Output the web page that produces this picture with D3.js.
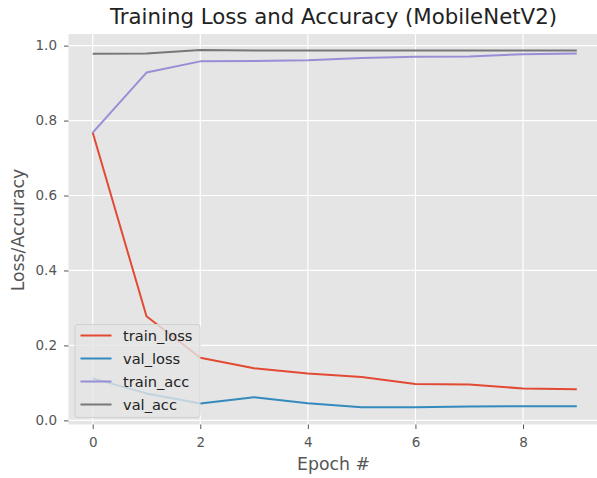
<!DOCTYPE html>
<html><head><meta charset="utf-8">
<script src="https://cdn.jsdelivr.net/npm/d3@7"></script>
<style>body{margin:0;background:#fff;} svg{display:block;}</style>
</head><body>
<script>
const epochs = [0,1,2,3,4,5,6,7,8,9];
const trainLoss = [0.768,0.278,0.167,0.139,0.125,0.116,0.097,0.096,0.085,0.083];
const valLoss   = [0.112,0.072,0.045,0.062,0.046,0.035,0.035,0.037,0.038,0.038];
const trainAcc  = [0.768,0.928,0.958,0.959,0.961,0.967,0.970,0.971,0.977,0.979];
const valAcc    = [0.978,0.979,0.988,0.987,0.987,0.987,0.987,0.987,0.987,0.987];
const seriesNames = ["train_loss","val_loss","train_acc","val_acc"];
const xTicks = [0,2,4,6,8];
const yTicks = [0.0,0.2,0.4,0.6,0.8,1.0];
const titleText = "Training Loss and Accuracy (MobileNetV2)";
const xLabel = "Epoch #";
const yLabel = "Loss/Accuracy";

const W = 597, H = 478;
const m = {left:68.5, right:-4, top:34, bottom:53.5};
const colors = ["#E24A33","#348ABD","#988ED5","#777777"];
const series = [trainLoss,valLoss,trainAcc,valAcc];

const svg = d3.select("body").append("svg").attr("width",W).attr("height",H);
const x = d3.scaleLinear().domain([-0.45,9.45]).range([m.left, W-m.right]);
const y = d3.scaleLinear().domain([-0.011,1.031]).range([H-m.bottom, m.top]);

svg.append("defs").append("clipPath").attr("id","clip")
  .append("rect").attr("x",m.left).attr("y",m.top).attr("width",W-m.right-m.left).attr("height",H-m.bottom-m.top);

svg.append("rect").attr("x",m.left).attr("y",m.top)
  .attr("width",W-m.right-m.left).attr("height",H-m.bottom-m.top).attr("fill","#E5E5E5");

// grid
const g = svg.append("g");
g.selectAll(".gx").data(xTicks).join("line")
  .attr("x1",d=>x(d)).attr("x2",d=>x(d)).attr("y1",m.top).attr("y2",H-m.bottom)
  .attr("stroke","#fff").attr("stroke-width",1.2);
g.selectAll(".gy").data(yTicks).join("line")
  .attr("y1",d=>y(d)).attr("y2",d=>y(d)).attr("x1",m.left).attr("x2",W-m.right)
  .attr("stroke","#fff").attr("stroke-width",1.2);

// axes
const xAxis = d3.axisBottom(x).tickValues(xTicks).tickFormat(d3.format("d")).tickSize(4.5).tickPadding(8);
const yAxis = d3.axisLeft(y).tickValues(yTicks).tickFormat(d3.format(".1f")).tickSize(4.5).tickPadding(7);
const gx = svg.append("g").attr("transform",`translate(0,${H-m.bottom})`).call(xAxis);
const gy = svg.append("g").attr("transform",`translate(${m.left},0)`).call(yAxis);
[gx,gy].forEach(a=>{
  a.select(".domain").remove();
  a.selectAll(".tick line").attr("stroke","#555").attr("stroke-width",1);
  a.selectAll(".tick text").attr("fill","#555").style("font-family","DejaVu Sans").style("font-size","13.5px");
});

// lines
const line = d3.line().x((d,i)=>x(epochs[i])).y(d=>y(d));
const lg = svg.append("g").attr("clip-path","url(#clip)");
series.forEach((s,k)=>{
  lg.append("path").datum(s).attr("d",line).attr("fill","none")
    .attr("stroke",colors[k]).attr("stroke-width",2).attr("stroke-linejoin","round");
});

// title & labels
svg.append("text").attr("x",333.5).attr("y",23.5).attr("text-anchor","middle")
  .style("font-family","DejaVu Sans").style("font-size","21.3px").attr("fill","#222").text(titleText);
svg.append("text").attr("x",333.5).attr("y",470).attr("text-anchor","middle")
  .style("font-family","DejaVu Sans").style("font-size","17.3px").attr("fill","#555").text(xLabel);
svg.append("text").attr("transform","translate(24,230) rotate(-90)").attr("text-anchor","middle")
  .style("font-family","DejaVu Sans").style("font-size","17.3px").attr("fill","#555").text(yLabel);

// legend
const leg = svg.append("g");
leg.append("rect").attr("x",75).attr("y",324.5).attr("width",125).attr("height",93).attr("rx",3)
  .attr("fill","#E5E5E5").attr("fill-opacity",0.8).attr("stroke","#d0d0d0").attr("stroke-width",1);
seriesNames.forEach((n,k)=>{
  const yy = 335.5 + k*23;
  leg.append("line").attr("x1",80.5).attr("x2",111.5).attr("y1",yy).attr("y2",yy)
    .attr("stroke",colors[k]).attr("stroke-width",2);
  leg.append("text").attr("x",123).attr("y",yy).attr("dy","0.35em")
    .style("font-family","DejaVu Sans").style("font-size","14.6px").attr("fill","#222").text(n);
});
</script>
</body></html>
